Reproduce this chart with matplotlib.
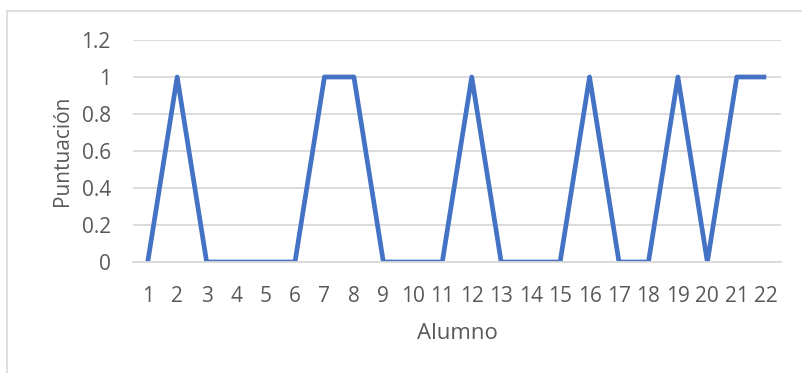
import matplotlib
matplotlib.use("Agg")
import matplotlib.pyplot as plt
from matplotlib.patches import Rectangle

alumnos = list(range(1, 23))
puntuacion = [0, 1, 0, 0, 0, 0, 1, 1, 0, 0, 0, 1, 0, 0, 0, 1, 0, 0, 1, 0, 1, 1]
y_ticks = [0, 0.2, 0.4, 0.6, 0.8, 1, 1.2]
y_tick_labels = ["0", "0.2", "0.4", "0.6", "0.8", "1", "1.2"]

text_color = "#595959"
grid_color = "#D9D9D9"
line_color = "#4472C4"

plt.rcParams['font.family'] = ['Open Sans', 'DejaVu Sans']

W, H = 802, 373
fig = plt.figure(figsize=(W / 100, H / 100), dpi=100)

# thin grey chart frame (only top/left edges fall inside the image)
fig.patches.append(Rectangle((7 / W, -0.1), 1.2, 1 - 11 / H + 0.1,
                             transform=fig.transFigure, fill=False,
                             edgecolor=grid_color, linewidth=1.2))

ax = fig.add_axes([133 / W, 1 - 262 / H, (781 - 133) / W, (262 - 40) / H])
ax.plot(alumnos, puntuacion, color=line_color, linewidth=3.4,
        solid_joinstyle='round', solid_capstyle='butt')

ax.set_xlim(0.5, 22.5)
ax.set_ylim(0, 1.2)
ax.set_xticks(alumnos)
ax.set_xticklabels([str(a) for a in alumnos])
ax.set_yticks(y_ticks)
ax.set_yticklabels(y_tick_labels)

ax.grid(axis='y', color=grid_color, linewidth=1.3)
ax.set_axisbelow(True)
for side in ['top', 'right', 'left']:
    ax.spines[side].set_visible(False)
ax.spines['bottom'].set_color(grid_color)
ax.spines['bottom'].set_linewidth(1.3)

ax.tick_params(axis='both', length=0, labelsize=15, labelcolor=text_color)
ax.tick_params(axis='y', pad=16)
ax.tick_params(axis='x', pad=17)

ax.set_xlabel("Alumno", fontsize=16, color=text_color, labelpad=12)
ax.set_ylabel("Puntuación", fontsize=15, color=text_color, labelpad=6)

fig.savefig("out.png", dpi=100)
